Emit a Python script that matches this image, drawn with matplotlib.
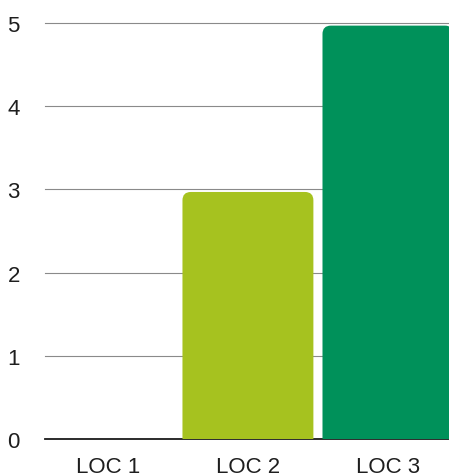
import matplotlib
matplotlib.use("Agg")
import matplotlib.pyplot as plt
from matplotlib.patches import FancyBboxPatch

locations = ["LOC 1", "LOC 2", "LOC 3"]
counts = [0, 3, 5]
bar_colors = ["#A6C21F", "#A6C21F", "#00915A"]
y_ticks = [0, 1, 2, 3, 4, 5]

plt.rcParams["font.family"] = ["Liberation Sans", "DejaVu Sans"]

fig = plt.figure(figsize=(4.49, 4.77), dpi=100)
ax = fig.add_axes([0.100, 0.0776, 0.900, 0.9224])

ax.set_xlim(-0.45, 2.436)
ax.set_ylim(0, 5.29)

# grid lines (baseline drawn darker)
for t in y_ticks:
    ax.axhline(t, color="#1a1a1a" if t == 0 else "#8a8a8a",
               lw=1.3 if t == 0 else 0.8, zorder=1, clip_on=False)

# bars with rounded top corners
bars = ax.bar(range(len(locations)), counts, width=0.935, color=bar_colors)
for rect in bars:
    h = rect.get_height()
    rect.set_visible(False)
    if h <= 0:
        continue
    patch = FancyBboxPatch(
        (rect.get_x(), -0.3), rect.get_width(), h + 0.27,
        boxstyle="round,pad=0,rounding_size=0.06",
        mutation_aspect=1.68,
        facecolor=rect.get_facecolor(), edgecolor="none", zorder=2,
    )
    ax.add_patch(patch)

ax.set_xticks(range(len(locations)))
ax.set_xticklabels(locations)
ax.set_yticks(y_ticks)
ax.tick_params(axis="both", length=0, labelsize=16, colors="#1e1e1e")
ax.tick_params(axis="y", pad=18)
ax.tick_params(axis="x", pad=12)
for s in ax.spines.values():
    s.set_visible(False)

fig.savefig("out.png", dpi=100)
